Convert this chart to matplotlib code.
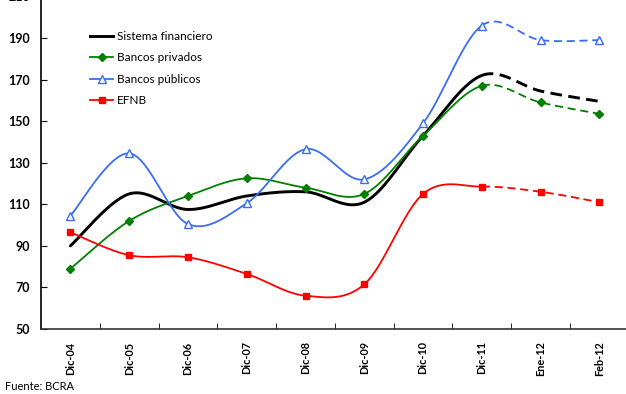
#!/usr/bin/env python3
"""Indices by financial group, Dic-04 to Feb-12 (smoothed lines, projection dashed)."""

import numpy as np
import matplotlib
matplotlib.use("Agg")
import matplotlib.pyplot as plt
from matplotlib.lines import Line2D

CATEGORIES = ["Dic-04", "Dic-05", "Dic-06", "Dic-07", "Dic-08",
              "Dic-09", "Dic-10", "Dic-11", "Ene-12", "Feb-12"]
SISTEMA = [90, 115, 107.5, 114, 116, 111, 143, 172, 164.5, 159.5]
PRIVADOS = [79, 102, 114, 122.5, 118, 115, 143, 167, 159, 153.5]
PUBLICOS = [104.5, 134.5, 100.5, 110.5, 136.5, 122, 149, 196, 189, 189]
EFNB = [96.5, 85.5, 84.5, 76.5, 66, 71.5, 115, 118.5, 116, 111]
LABELS = ["Sistema financiero", "Bancos privados", "Bancos públicos", "EFNB"]
Y_TICKS = list(range(50, 211, 20))
SPLIT = 7  # solid up to Dic-11, dashed after


def smooth(x, y, n=30):
    """Catmull-Rom style bezier smoothing through the points (like spreadsheet smoothed lines)."""
    x = np.asarray(x, float)
    y = np.asarray(y, float)
    px = np.concatenate([[x[0]], x, [x[-1]]])
    py = np.concatenate([[y[0]], y, [y[-1]]])
    t = np.linspace(0, 1, n)[:, None]
    xs, ys = [], []
    for i in range(1, len(px) - 2):
        p0 = np.array([px[i], py[i]])
        p3 = np.array([px[i + 1], py[i + 1]])
        c1 = p0 + (p3 - np.array([px[i - 1], py[i - 1]])) / 6
        c2 = p3 - (np.array([px[i + 2], py[i + 2]]) - p0) / 6
        pts = ((1 - t) ** 3) * p0 + 3 * ((1 - t) ** 2) * t * c1 + 3 * (1 - t) * t ** 2 * c2 + t ** 3 * p3
        if i > 1:
            pts = pts[1:]
        xs.append(pts[:, 0])
        ys.append(pts[:, 1])
    return np.concatenate(xs), np.concatenate(ys)


plt.rcParams["font.family"] = ["Lato", "DejaVu Sans"]

fig = plt.figure(figsize=(6.26, 3.94), dpi=100)
ax = fig.add_axes([0.0655, 0.165, 0.939, 0.844])

xpos = np.arange(len(CATEGORIES))
series = [
    (SISTEMA, dict(color="black", lw=2.1), None),
    (PRIVADOS, dict(color="#008000", lw=1.3), dict(marker="D", ms=4.5, mfc="#008000", mec="#008000")),
    (PUBLICOS, dict(color="#3a6cf4", lw=1.3), dict(marker="^", ms=6, mfc="white", mec="#3a6cf4", mew=1.0)),
    (EFNB, dict(color="#ff0000", lw=1.3), dict(marker="s", ms=5, mfc="#ff0000", mec="#ff0000")),
]

handles = []
for vals, style, mk in series:
    sx, sy = smooth(xpos, vals)
    solid = sx <= SPLIT + 1e-9
    dashed = sx >= SPLIT - 1e-9
    ax.plot(sx[solid], sy[solid], solid_capstyle="round", zorder=2, **style)
    dash = (4.5, 2.6) if style["lw"] < 2 else (4.0, 2.2)
    ax.plot(sx[dashed], sy[dashed], linestyle=(0, dash), zorder=2, **style)
    if mk is not None:
        ax.plot(xpos, vals, linestyle="none", zorder=3, **mk)
        handles.append(Line2D([], [], color=style["color"], lw=style["lw"], **mk))
    else:
        handles.append(Line2D([], [], **style))

ax.legend(handles, LABELS, loc="upper left", bbox_to_anchor=(0.075, 0.91),
          frameon=False, fontsize=8.5, handlelength=2.0, handletextpad=0.3,
          labelspacing=0.88, borderaxespad=0)

ax.set_xlim(-0.5, len(CATEGORIES) - 0.5)
ax.set_ylim(50, 210)
ax.set_yticks(Y_TICKS)
ax.set_yticklabels([str(v) for v in Y_TICKS], fontweight="bold", fontsize=9)
ax.set_xticks(xpos)
ax.set_xticklabels(CATEGORIES, rotation=90, fontweight="bold", fontsize=7.8)
ax.set_xticks(xpos[:-1] + 0.5, minor=True)
ax.tick_params(axis="x", which="major", length=0, pad=9)
ax.tick_params(axis="x", which="minor", direction="in", length=4)
ax.tick_params(axis="y", direction="in", length=4, pad=8)
for side in ("top", "right"):
    ax.spines[side].set_visible(False)
ax.spines["left"].set_linewidth(1.2)
ax.spines["bottom"].set_linewidth(1.2)
ax.spines["bottom"].set_color("#333333")

fig.text(0.008, 0.02, "Fuente: BCRA", fontsize=8, va="center")

fig.savefig("out.png", dpi=100)
